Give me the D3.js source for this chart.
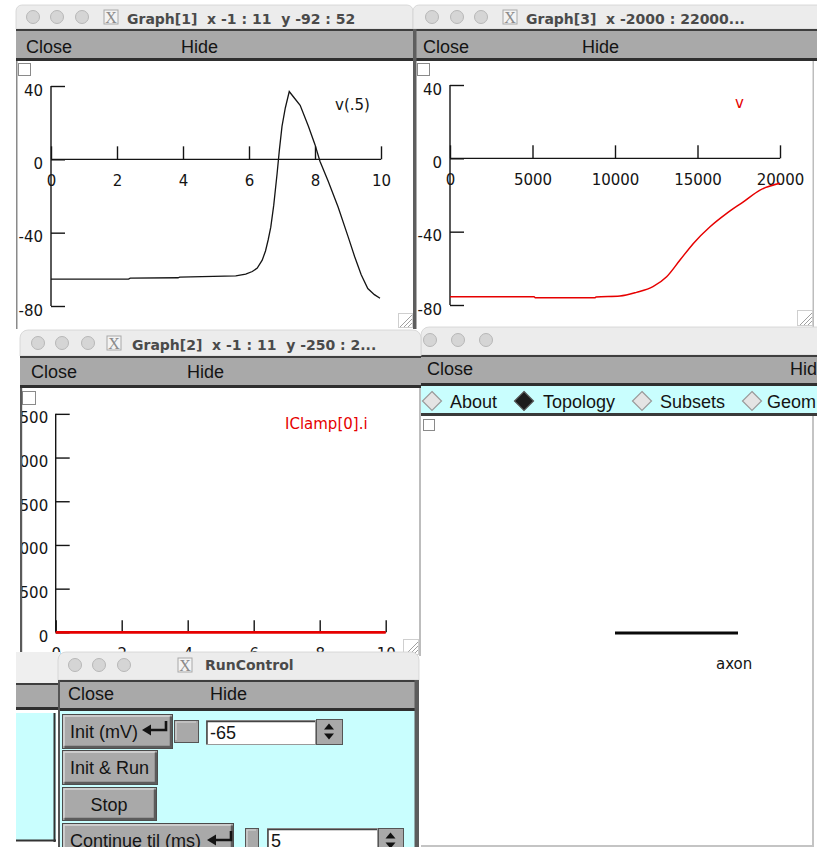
<!DOCTYPE html>
<html><head><meta charset="utf-8">
<script src="https://cdn.jsdelivr.net/npm/d3@7"></script>
<style>
html,body{margin:0;padding:0;background:#fff;overflow:hidden}
svg{display:block}
.menu{font-family:"Liberation Sans",Arial,sans-serif;font-size:18px;fill:#141414}
.ttl{font-family:"DejaVu Sans";font-weight:bold;font-size:14px;fill:#4a4a4a;white-space:pre}
.gtxt{font-family:"DejaVu Sans";font-size:15px}
</style></head><body>
<svg id="c" width="817" height="847"></svg>
<script>
// ---------------- data ----------------
const g1Time = [0, 2.35, 2.4, 3.85, 3.9, 5.6, 5.9, 6.1, 6.25, 6.4, 6.5, 6.58, 6.66, 6.75, 6.85, 6.92, 7.0, 7.1, 7.22, 7.35, 7.55, 7.8, 8.0, 8.15, 8.4, 8.7, 9.0, 9.2, 9.4, 9.6, 9.8, 9.97];
const g1V    = [-65.3, -65.3, -64.8, -64.6, -64.2, -63.6, -62.6, -61.2, -59.3, -55.0, -50.0, -44, -37, -25, -8, 5, 18, 28, 37, 34, 29.5, 18, 8, -1, -12, -26, -42, -53, -63, -70.5, -73.8, -75.8];
const g1XTicks = [0, 2, 4, 6, 8, 10];
const g1YTicks = [-80, -40, 0, 40];
const g1Label = "v(.5)";

const g3Pos = [0, 5100, 5150, 8800, 8850, 10300, 11300, 12300, 13130, 13940, 14750, 15760, 16770, 17780, 18790, 20000];
const g3V   = [-75.5, -75.5, -76, -76, -75.6, -75.1, -73.1, -70, -64.6, -55.5, -46.4, -37.3, -30, -23.7, -17.3, -13.6];
const g3XTicks = [0, 5000, 10000, 15000, 20000];
const g3YTicks = [-80, -40, 0, 40];
const g3Label = "v";

const g2Time = [0, 10];
const g2I = [0, 0];
const g2XTicks = [0, 2, 4, 6, 8, 10];
const g2YTicks = [0, 500, 1000, 1500, 2000, 2500];
const g2Label = "IClamp[0].i";

const topoSections = ["axon"];
const topoStart = [0];
const topoEnd = [1];

const windowTitles = ["Graph[1]  x -1 : 11  y -92 : 52", "Graph[3]  x -2000 : 22000...", "Graph[2]  x -1 : 11  y -250 : 2...", "RunControl"];
const radioLabels = ["About", "Topology", "Subsets", "Geom"];
const radioSelected = [false, true, false, false];

// ---------------- helpers ----------------
const svg = d3.select("#c");
const TITLE_BG = "#ececec", MENU_BG = "#a9a9a9", CYAN = "#c9fefe";
let clipId = 0;

function roundTop(x0, x1, y0, y1, rL, rR) {
  const p = d3.path();
  p.moveTo(x0, y1);
  p.lineTo(x0, y0 + rL);
  if (rL) p.arcTo(x0, y0, x0 + rL, y0, rL);
  p.lineTo(x1 - rR, y0);
  if (rR) p.arcTo(x1, y0, x1, y0 + rR, rR);
  p.lineTo(x1, y1);
  p.closePath();
  return p.toString();
}

function titleBar(o) {
  svg.append("path").attr("d", roundTop(o.x0, o.x1, o.y0, o.y1, o.rL || 0, o.rR || 0))
    .attr("fill", o.bg || TITLE_BG).attr("stroke", "#d2d2d2").attr("stroke-width", 0.8);
  (o.circles || []).forEach(cx => svg.append("circle").attr("cx", cx).attr("cy", o.cy)
    .attr("r", 6.5).attr("fill", "#d5d5d5").attr("stroke", "#b7b7b7").attr("stroke-width", 1));
  if (o.xIcon != null) {
    svg.append("rect").attr("x", o.xIcon).attr("y", o.cy - 7).attr("width", 14).attr("height", 14)
      .attr("fill", "#f3f3f3").attr("stroke", "#a8a8a8");
    svg.append("text").attr("x", o.xIcon + 7).attr("y", o.cy + 6).attr("text-anchor", "middle")
      .attr("font-family", "Liberation Serif").attr("font-size", 16).attr("fill", "#8a8a8a").text("X");
  }
  if (o.title) svg.append("text").attr("class", "ttl").attr("x", o.tx).attr("y", o.ty)
    .attr("xml:space", "preserve").text(o.title);
}

function menuBar(x0, x1, y0, y1, closeX, hideX, base) {
  svg.append("rect").attr("x", x0).attr("y", y0).attr("width", x1 - x0).attr("height", y1 - y0).attr("fill", MENU_BG);
  svg.append("rect").attr("x", x0).attr("y", y0).attr("width", x1 - x0).attr("height", 2).attr("fill", "#3e3e3e");
  svg.append("rect").attr("x", x0).attr("y", y1 - 3).attr("width", x1 - x0).attr("height", 3).attr("fill", "#2f2f2f");
  if (closeX != null) svg.append("text").attr("class", "menu").attr("x", closeX).attr("y", base).text("Close");
  if (hideX != null) svg.append("text").attr("class", "menu").attr("x", hideX).attr("y", base).text("Hide");
}

function canvasRect(x0, y0, x1, y1) {
  svg.append("rect").attr("x", x0).attr("y", y0).attr("width", x1 - x0).attr("height", y1 - y0).attr("fill", "#fff");
  const id = "clip" + (clipId++);
  svg.append("clipPath").attr("id", id).append("rect").attr("x", x0).attr("y", y0)
    .attr("width", x1 - x0).attr("height", y1 - y0);
  return svg.append("g").attr("clip-path", `url(#${id})`);
}

function checkbox(g, x, y, s) {
  g.append("rect").attr("x", x + 0.5).attr("y", y + 0.5).attr("width", s).attr("height", s)
    .attr("fill", "#fff").attr("stroke", "#8a8a8a");
}

function resizeHandle(x, y, s) {
  svg.append("rect").attr("x", x + 0.5).attr("y", y + 0.5).attr("width", s).attr("height", s)
    .attr("fill", "#fff").attr("stroke", "#cfcfcf");
  [4, 8, 12].forEach(d => svg.append("line").attr("x1", x + s - d).attr("y1", y + s).attr("x2", x + s).attr("y2", y + s - d)
    .attr("stroke", "#a0a0a0").attr("stroke-width", 1));
}

function axes(g, xs, ys, xTicks, yTicks, tickY, tickX, padY, padX) {
  const fmt = d => String(d);
  const ya = g.append("g").attr("transform", `translate(${xs(0)},0)`)
    .call(d3.axisLeft(ys).tickValues(yTicks).tickSizeInner(-tickY).tickSizeOuter(0).tickPadding(padY).tickFormat(fmt));
  const xa = g.append("g").attr("transform", `translate(0,${ys(0)})`)
    .call(d3.axisBottom(xs).tickValues(xTicks).tickSizeInner(-tickX).tickSizeOuter(0).tickPadding(padX).tickFormat(fmt));
  [ya, xa].forEach(a => {
    a.select(".domain").remove();
    a.attr("font-family", "DejaVu Sans").attr("font-size", 15);
    a.selectAll(".tick line").attr("stroke", "#141414").attr("stroke-width", 1.4);
    a.selectAll(".tick text").attr("fill", "#141414");
  });
  ya.selectAll(".tick text").attr("dy", "0.6em");
  g.append("line").attr("x1", xs(0)).attr("x2", xs(0)).attr("y1", ys(d3.min(yTicks))).attr("y2", ys(d3.max(yTicks)))
    .attr("stroke", "#141414").attr("stroke-width", 1.4);
  g.append("line").attr("x1", xs(0)).attr("x2", xs(d3.max(xTicks))).attr("y1", ys(0)).attr("y2", ys(0))
    .attr("stroke", "#141414").attr("stroke-width", 1.4);
}

function button(x, y, w, h, label, tx, anchor) {
  svg.append("rect").attr("x", x + 0.5).attr("y", y + 0.5).attr("width", w).attr("height", h)
    .attr("fill", "#a9a9a9").attr("stroke", "#4a4a4a");
  svg.append("path").attr("d", `M${x + 2},${y + h - 2}V${y + 2}H${x + w - 2}`).attr("stroke", "#d8d8d8")
    .attr("stroke-width", 1.5).attr("fill", "none");
  svg.append("path").attr("d", `M${x + 2.5},${y + h - 1}H${x + w - 1}V${y + 2.5}`).attr("stroke", "#5c5c5c")
    .attr("stroke-width", 2.5).attr("fill", "none");
  if (label) svg.append("text").attr("class", "menu").attr("x", tx).attr("y", y + h / 2 + 7)
    .attr("text-anchor", anchor || "start").text(label);
}

function retArrow(x, y) {
  svg.append("path").attr("d", `M${x + 6},${y}H${x + 24}V${y - 9}`).attr("stroke", "#141414")
    .attr("stroke-width", 2.6).attr("fill", "none");
  svg.append("path").attr("d", `M${x},${y}L${x + 9},${y - 5.5}L${x + 9},${y + 5.5}Z`).attr("fill", "#141414");
}

function textField(x, y, w, h, val) {
  svg.append("rect").attr("x", x + 0.5).attr("y", y + 0.5).attr("width", w).attr("height", h)
    .attr("fill", "#fff").attr("stroke", "#9a9a9a");
  svg.append("path").attr("d", `M${x + 1},${y + h}V${y + 1.5}H${x + w}`).attr("stroke", "#444")
    .attr("stroke-width", 1.5).attr("fill", "none");
  svg.append("text").attr("class", "menu").attr("x", x + 4).attr("y", y + h / 2 + 7).text(val);
}

function spinner(x, y, w, h) {
  svg.append("rect").attr("x", x + 0.5).attr("y", y + 0.5).attr("width", w).attr("height", h)
    .attr("fill", "#a9a9a9").attr("stroke", "#555");
  const cx = x + w / 2, cy = y + h / 2;
  svg.append("path").attr("d", `M${cx - 5},${cy - 2}L${cx + 5},${cy - 2}L${cx},${cy - 8}Z`).attr("fill", "#111");
  svg.append("path").attr("d", `M${cx - 5},${cy + 2}L${cx + 5},${cy + 2}L${cx},${cy + 8}Z`).attr("fill", "#111");
}

function smallBtn(x, y, w, h) {
  svg.append("rect").attr("x", x + 0.5).attr("y", y + 0.5).attr("width", w).attr("height", h)
    .attr("fill", "#a9a9a9").attr("stroke", "#555");
  svg.append("path").attr("d", `M${x + 2},${y + h - 2}V${y + 2}H${x + w - 2}`).attr("stroke", "#d8d8d8")
    .attr("stroke-width", 1.2).attr("fill", "none");
}

// ---------------- Window Graph[1] ----------------
titleBar({x0: 16, x1: 413, y0: 5, y1: 29, rL: 6, rR: 6, circles: [33, 57, 82], cy: 17, xIcon: 104,
  title: windowTitles[0], tx: 127, ty: 24});
menuBar(16, 413, 29, 61, 26, 181, 53);
{
  const g = canvasRect(16, 61, 413, 329);
  svg.append("rect").attr("x", 16).attr("y", 61).attr("width", 1.5).attr("height", 268).attr("fill", "#8a8a8a");
  checkbox(g, 18, 63, 12);
  const xs = d3.scaleLinear().domain([-1, 11]).range([18, 414]);
  const ys = d3.scaleLinear().domain([-92, 52]).range([328, 64]);
  axes(g, xs, ys, g1XTicks, g1YTicks, 14, 13, 8, 16);
  const line = d3.line().x((d, i) => xs(g1Time[i])).y(d => ys(d));
  g.append("path").attr("d", line(g1V)).attr("fill", "none").attr("stroke", "#141414").attr("stroke-width", 1.3);
  g.append("text").attr("class", "gtxt").attr("x", 335).attr("y", 110).attr("fill", "#141414").text(g1Label);
  resizeHandle(398, 313, 14);
}

// ---------------- Window Graph[3] ----------------
titleBar({x0: 413, x1: 830, y0: 5, y1: 29, rL: 6, rR: 0, circles: [432, 457, 481], cy: 17, xIcon: 503,
  title: windowTitles[1], tx: 526, ty: 24});
menuBar(413, 830, 29, 61, 423, 582, 53);
{
  const g = canvasRect(416, 61, 813, 327);
  svg.append("rect").attr("x", 413).attr("y", 29).attr("width", 3.5).attr("height", 300).attr("fill", "#5e5e5e");
  svg.append("rect").attr("x", 812.5).attr("y", 61).attr("width", 1.5).attr("height", 266).attr("fill", "#bdbdbd");
  checkbox(g, 417, 63, 12);
  const xs = d3.scaleLinear().domain([-2000, 22000]).range([417, 813]);
  const ys = d3.scaleLinear().domain([-92, 52]).range([327, 63]);
  axes(g, xs, ys, g3XTicks, g3YTicks, 14, 13, 8, 16);
  const line = d3.line().curve(d3.curveMonotoneX).x((d, i) => xs(g3Pos[i])).y(d => ys(d));
  g.append("path").attr("d", line(g3V)).attr("fill", "none").attr("stroke", "#e60000").attr("stroke-width", 1.5);
  g.append("text").attr("class", "gtxt").attr("x", 735).attr("y", 108).attr("fill", "#e60000").text(g3Label);
  resizeHandle(797, 310, 15);
}

// ---------------- Window CellBuilder (right middle) ----------------
titleBar({x0: 421, x1: 830, y0: 327, y1: 355, rL: 8, rR: 0, circles: [430, 458, 486], cy: 340});
menuBar(421, 830, 355, 386, 427, 790, 375);
svg.append("rect").attr("x", 421).attr("y", 386).attr("width", 400).attr("height", 28).attr("fill", CYAN);
svg.append("rect").attr("x", 421).attr("y", 413).attr("width", 400).attr("height", 3).attr("fill", "#3a3a3a");
{
  const cxs = [432, 524, 642, 752], txs = [450, 543, 660, 767];
  radioLabels.forEach((lab, i) => {
    const cx = cxs[i], cy = 401, r = 9.5;
    svg.append("path").attr("d", `M${cx},${cy - r}L${cx + r},${cy}L${cx},${cy + r}L${cx - r},${cy}Z`)
      .attr("fill", radioSelected[i] ? "#1c1c1c" : "#e4e4e4")
      .attr("stroke", radioSelected[i] ? "#555" : "#9a9a9a").attr("stroke-width", 1.2);
    svg.append("text").attr("class", "menu").attr("x", txs[i]).attr("y", 408).text(lab);
  });
  svg.append("rect").attr("x", 416).attr("y", 386).attr("width", 5).attr("height", 30).attr("fill", "#5e5e5e");
  const g = canvasRect(421, 416, 812, 845);
  svg.append("rect").attr("x", 812).attr("y", 416).attr("width", 2).attr("height", 431).attr("fill", "#c4c4c4");
  svg.append("rect").attr("x", 421).attr("y", 845).attr("width", 393).attr("height", 2).attr("fill", "#c4c4c4");
  checkbox(g, 423, 419, 11);
  const ts = d3.scaleLinear().domain([0, 1]).range([615, 738]);
  topoSections.forEach((s, i) => {
    g.append("line").attr("x1", ts(topoStart[i])).attr("x2", ts(topoEnd[i])).attr("y1", 633).attr("y2", 633)
      .attr("stroke", "#0a0a0a").attr("stroke-width", 3);
    g.append("text").attr("class", "gtxt").attr("x", 716).attr("y", 669).attr("fill", "#141414").text(s);
  });
}

// ---------------- Window Graph[2] ----------------
titleBar({x0: 20, x1: 421, y0: 330, y1: 356, rL: 8, rR: 8, circles: [38, 62, 88], cy: 343, xIcon: 107,
  title: windowTitles[2], tx: 132, ty: 350});
menuBar(20, 421, 356, 388, 31, 187, 378);
{
  const g = canvasRect(20, 388, 421, 656);
  checkbox(g, 22, 391, 13);
  const xs = d3.scaleLinear().domain([-1, 11]).range([22.7, 418.7]);
  const ys = d3.scaleLinear().domain([-250, 2750]).range([654.2, 392]);
  axes(g, xs, ys, g2XTicks, g2YTicks, 14, 12, 7.5, 16);
  const line = d3.line().x((d, i) => xs(g2Time[i])).y(d => ys(d));
  g.append("path").attr("d", line(g2I)).attr("fill", "none").attr("stroke", "#e60000").attr("stroke-width", 2.6);
  g.append("text").attr("class", "gtxt").attr("x", 285).attr("y", 429).attr("fill", "#e60000").text(g2Label);
  svg.append("rect").attr("x", 20).attr("y", 388).attr("width", 2.2).attr("height", 268).attr("fill", "#5a5a5a");
  svg.append("rect").attr("x", 419).attr("y", 388).attr("width", 2).attr("height", 268).attr("fill", "#bdbdbd");
  resizeHandle(403, 639, 15);
}

// ---------------- partial window (left, under RunControl) ----------------
svg.append("rect").attr("x", 16).attr("y", 652).attr("width", 44).attr("height", 31).attr("fill", "#efefef");
menuBar(16, 60, 683, 710, null, null, 0);
svg.append("rect").attr("x", 16).attr("y", 713).attr("width", 40).attr("height", 127).attr("fill", CYAN);
svg.append("rect").attr("x", 53.5).attr("y", 713).attr("width", 2).attr("height", 129).attr("fill", "#333");
svg.append("rect").attr("x", 16).attr("y", 839.5).attr("width", 40).attr("height", 2).attr("fill", "#333");

// ---------------- RunControl ----------------
titleBar({x0: 58, x1: 419, y0: 652, y1: 680, rL: 8, rR: 8, circles: [75, 99, 124], cy: 665, xIcon: 178,
  title: windowTitles[3], tx: 205, ty: 670});
menuBar(58, 419, 680, 711, 68, 210, 700);
svg.append("rect").attr("x", 58).attr("y", 711).attr("width", 361).attr("height", 140).attr("fill", CYAN);
svg.append("rect").attr("x", 58).attr("y", 680).attr("width", 2).attr("height", 170).attr("fill", "#555");
svg.append("rect").attr("x", 414.5).attr("y", 680).attr("width", 4.5).attr("height", 170).attr("fill", "#5c5c5c");

button(62, 714, 110, 34, "Init (mV)", 70);
retArrow(142, 730);
smallBtn(174, 720, 24, 22);
textField(206, 720, 109, 24, "-65");
spinner(316, 719, 26, 25);
button(62, 750, 95, 34, "Init & Run", 70);
button(62, 787, 94, 33, "Stop", 109, "middle");
button(62, 823, 171, 34, "Continue til (ms)", 70);
retArrow(207, 840);
smallBtn(245, 828, 13, 25);
textField(267, 828, 110, 24, "5");
spinner(378, 828, 25, 25);
</script></body></html>
